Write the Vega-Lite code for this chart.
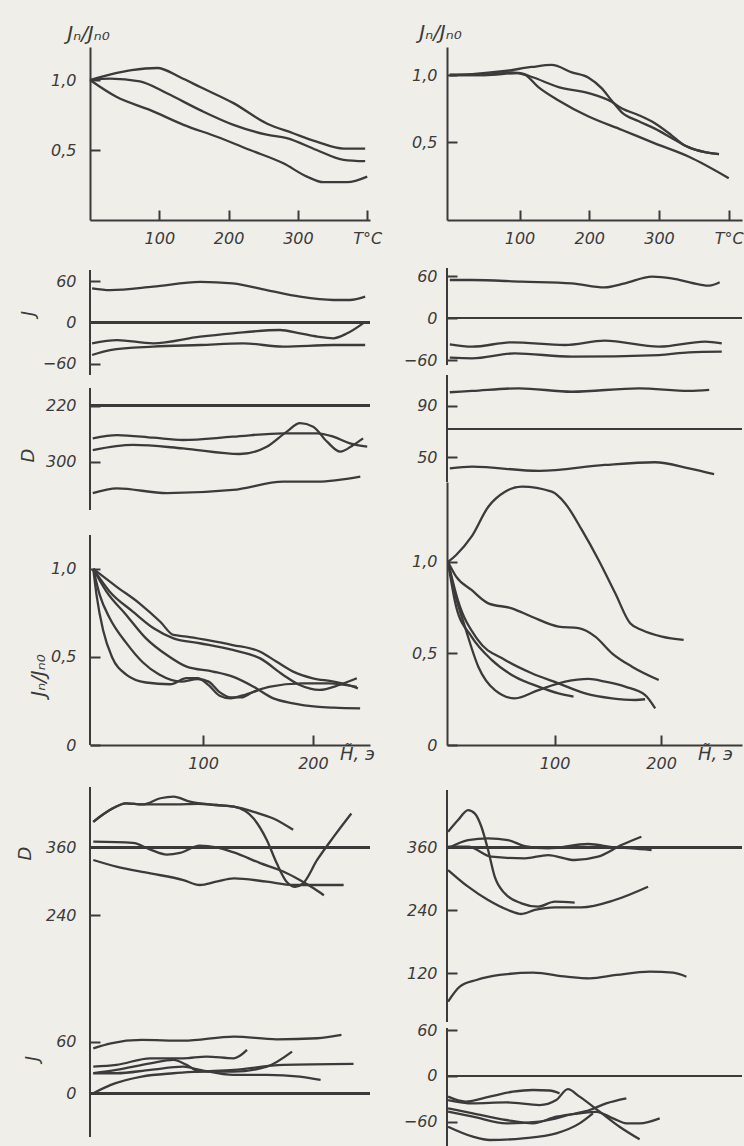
{
  "$schema": "https://vega.github.io/schema/vega-lite/v6.json",
  "autosize": "none",
  "padding": {"left": 90, "top": 47, "right": 654, "bottom": 1099},
  "background": "#efeee9",
  "data": {"values": [
    {"p":"L1","s":"a","x":0,"y":1.0},{"p":"L1","s":"a","x":30,"y":1.04},{"p":"L1","s":"a","x":60,"y":1.07},{"p":"L1","s":"a","x":97,"y":1.086},{"p":"L1","s":"a","x":130,"y":1.02},{"p":"L1","s":"a","x":159,"y":0.95},{"p":"L1","s":"a","x":207,"y":0.835},{"p":"L1","s":"a","x":255,"y":0.69},{"p":"L1","s":"a","x":293,"y":0.62},{"p":"L1","s":"a","x":327,"y":0.56},{"p":"L1","s":"a","x":366,"y":0.51},{"p":"L1","s":"a","x":397,"y":0.51},
    {"p":"L1","s":"b","x":0,"y":1.0},{"p":"L1","s":"b","x":29,"y":1.01},{"p":"L1","s":"b","x":72,"y":0.99},{"p":"L1","s":"b","x":111,"y":0.905},{"p":"L1","s":"b","x":159,"y":0.785},{"p":"L1","s":"b","x":207,"y":0.68},{"p":"L1","s":"b","x":255,"y":0.61},{"p":"L1","s":"b","x":284,"y":0.585},{"p":"L1","s":"b","x":327,"y":0.5},{"p":"L1","s":"b","x":366,"y":0.43},{"p":"L1","s":"b","x":397,"y":0.42},
    {"p":"L1","s":"c","x":0,"y":1.0},{"p":"L1","s":"c","x":38,"y":0.88},{"p":"L1","s":"c","x":87,"y":0.785},{"p":"L1","s":"c","x":135,"y":0.68},{"p":"L1","s":"c","x":183,"y":0.595},{"p":"L1","s":"c","x":231,"y":0.5},{"p":"L1","s":"c","x":279,"y":0.405},{"p":"L1","s":"c","x":313,"y":0.31},{"p":"L1","s":"c","x":337,"y":0.27},{"p":"L1","s":"c","x":371,"y":0.27},{"p":"L1","s":"c","x":400,"y":0.31},

    {"p":"R1","s":"a","x":0,"y":1.0},{"p":"R1","s":"a","x":32,"y":1.007},{"p":"R1","s":"a","x":79,"y":1.03},{"p":"R1","s":"a","x":118,"y":1.06},{"p":"R1","s":"a","x":146,"y":1.075},{"p":"R1","s":"a","x":175,"y":1.02},{"p":"R1","s":"a","x":199,"y":0.98},{"p":"R1","s":"a","x":218,"y":0.9},{"p":"R1","s":"a","x":232,"y":0.81},{"p":"R1","s":"a","x":247,"y":0.72},{"p":"R1","s":"a","x":271,"y":0.655},{"p":"R1","s":"a","x":294,"y":0.6},{"p":"R1","s":"a","x":318,"y":0.53},{"p":"R1","s":"a","x":335,"y":0.48},{"p":"R1","s":"a","x":343,"y":0.46},{"p":"R1","s":"a","x":366,"y":0.425},{"p":"R1","s":"a","x":386,"y":0.41},
    {"p":"R1","s":"b","x":0,"y":1.0},{"p":"R1","s":"b","x":50,"y":1.0},{"p":"R1","s":"b","x":99,"y":1.015},{"p":"R1","s":"b","x":118,"y":0.985},{"p":"R1","s":"b","x":156,"y":0.91},{"p":"R1","s":"b","x":199,"y":0.865},{"p":"R1","s":"b","x":232,"y":0.8},{"p":"R1","s":"b","x":247,"y":0.75},{"p":"R1","s":"b","x":271,"y":0.7},{"p":"R1","s":"b","x":294,"y":0.64},{"p":"R1","s":"b","x":318,"y":0.55},{"p":"R1","s":"b","x":335,"y":0.48},{"p":"R1","s":"b","x":343,"y":0.46},{"p":"R1","s":"b","x":366,"y":0.425},{"p":"R1","s":"b","x":386,"y":0.41},
    {"p":"R1","s":"c","x":0,"y":1.0},{"p":"R1","s":"c","x":50,"y":1.0},{"p":"R1","s":"c","x":89,"y":1.02},{"p":"R1","s":"c","x":108,"y":1.0},{"p":"R1","s":"c","x":127,"y":0.91},{"p":"R1","s":"c","x":156,"y":0.81},{"p":"R1","s":"c","x":199,"y":0.69},{"p":"R1","s":"c","x":247,"y":0.59},{"p":"R1","s":"c","x":294,"y":0.49},{"p":"R1","s":"c","x":343,"y":0.39},{"p":"R1","s":"c","x":400,"y":0.23},

    {"p":"L2","s":"a","x":3,"y":49.6},{"p":"L2","s":"a","x":29,"y":47},{"p":"L2","s":"a","x":91,"y":51.9},{"p":"L2","s":"a","x":159,"y":59},{"p":"L2","s":"a","x":206,"y":56.8},{"p":"L2","s":"a","x":255,"y":47},{"p":"L2","s":"a","x":303,"y":37.4},{"p":"L2","s":"a","x":351,"y":32.6},{"p":"L2","s":"a","x":375,"y":32.6},{"p":"L2","s":"a","x":397,"y":37.4},
    {"p":"L2","s":"b","x":3,"y":-30.2},{"p":"L2","s":"b","x":39,"y":-25.4},{"p":"L2","s":"b","x":91,"y":-30.2},{"p":"L2","s":"b","x":159,"y":-20.5},{"p":"L2","s":"b","x":206,"y":-15.7},{"p":"L2","s":"b","x":274,"y":-10.9},{"p":"L2","s":"b","x":303,"y":-15.7},{"p":"L2","s":"b","x":328,"y":-20.5},{"p":"L2","s":"b","x":351,"y":-22.9},{"p":"L2","s":"b","x":371,"y":-15.7},{"p":"L2","s":"b","x":394,"y":-1.2},
    {"p":"L2","s":"c","x":3,"y":-47.1},{"p":"L2","s":"c","x":29,"y":-39.9},{"p":"L2","s":"c","x":91,"y":-35},{"p":"L2","s":"c","x":159,"y":-32.6},{"p":"L2","s":"c","x":221,"y":-30.2},{"p":"L2","s":"c","x":279,"y":-35},{"p":"L2","s":"c","x":351,"y":-32.6},{"p":"L2","s":"c","x":397,"y":-32.6},

    {"p":"R2","s":"a","x":0,"y":54.3},{"p":"R2","s":"a","x":32,"y":54.3},{"p":"R2","s":"a","x":103,"y":51.9},{"p":"R2","s":"a","x":175,"y":49.5},{"p":"R2","s":"a","x":222,"y":43.8},{"p":"R2","s":"a","x":251,"y":49.5},{"p":"R2","s":"a","x":290,"y":59},{"p":"R2","s":"a","x":318,"y":56.7},{"p":"R2","s":"a","x":357,"y":48.1},{"p":"R2","s":"a","x":372,"y":46.2},{"p":"R2","s":"a","x":387,"y":51},
    {"p":"R2","s":"b","x":0,"y":-37.6},{"p":"R2","s":"b","x":32,"y":-41},{"p":"R2","s":"b","x":89,"y":-34.7},{"p":"R2","s":"b","x":165,"y":-38.6},{"p":"R2","s":"b","x":222,"y":-32.4},{"p":"R2","s":"b","x":300,"y":-41},{"p":"R2","s":"b","x":366,"y":-33.8},{"p":"R2","s":"b","x":390,"y":-36.1},
    {"p":"R2","s":"c","x":0,"y":-56.7},{"p":"R2","s":"c","x":32,"y":-57.6},{"p":"R2","s":"c","x":93,"y":-50.5},{"p":"R2","s":"c","x":175,"y":-55.2},{"p":"R2","s":"c","x":300,"y":-52.9},{"p":"R2","s":"c","x":343,"y":-49},{"p":"R2","s":"c","x":390,"y":-48.1},

    {"p":"L3","s":"a","x":4,"y":266.6},{"p":"L3","s":"a","x":39,"y":261.9},{"p":"L3","s":"a","x":91,"y":265.7},{"p":"L3","s":"a","x":134,"y":269},{"p":"L3","s":"a","x":206,"y":264.3},{"p":"L3","s":"a","x":279,"y":259.4},{"p":"L3","s":"a","x":328,"y":259.4},{"p":"L3","s":"a","x":351,"y":264.3},{"p":"L3","s":"a","x":375,"y":273.7},{"p":"L3","s":"a","x":400,"y":278.6},
    {"p":"L3","s":"b","x":4,"y":283.3},{"p":"L3","s":"b","x":62,"y":276},{"p":"L3","s":"b","x":134,"y":280.9},{"p":"L3","s":"b","x":216,"y":289},{"p":"L3","s":"b","x":255,"y":278.6},{"p":"L3","s":"b","x":284,"y":257},{"p":"L3","s":"b","x":303,"y":245},{"p":"L3","s":"b","x":322,"y":250},{"p":"L3","s":"b","x":342,"y":271.4},{"p":"L3","s":"b","x":361,"y":285.7},{"p":"L3","s":"b","x":380,"y":276},{"p":"L3","s":"b","x":394,"y":266.6},
    {"p":"L3","s":"c","x":4,"y":345},{"p":"L3","s":"c","x":39,"y":338},{"p":"L3","s":"c","x":111,"y":345},{"p":"L3","s":"c","x":206,"y":340.4},{"p":"L3","s":"c","x":279,"y":328.6},{"p":"L3","s":"c","x":328,"y":328.6},{"p":"L3","s":"c","x":390,"y":321.4},

    {"p":"R3","s":"a","x":0,"y":100.7},{"p":"R3","s":"a","x":32,"y":101.7},{"p":"R3","s":"a","x":99,"y":103.8},{"p":"R3","s":"a","x":175,"y":101.1},{"p":"R3","s":"a","x":271,"y":103.8},{"p":"R3","s":"a","x":343,"y":101.7},{"p":"R3","s":"a","x":372,"y":102.5},
    {"p":"R3","s":"b","x":0,"y":41.4},{"p":"R3","s":"b","x":32,"y":42.7},{"p":"R3","s":"b","x":128,"y":39.3},{"p":"R3","s":"b","x":222,"y":44},{"p":"R3","s":"b","x":294,"y":46.1},{"p":"R3","s":"b","x":343,"y":41.4},{"p":"R3","s":"b","x":379,"y":36.8},

    {"p":"L4","s":"a","x":0,"y":1.0},{"p":"L4","s":"a","x":21,"y":0.9},{"p":"L4","s":"a","x":42,"y":0.805},{"p":"L4","s":"a","x":61,"y":0.7},{"p":"L4","s":"a","x":73,"y":0.625},{"p":"L4","s":"a","x":85,"y":0.616},{"p":"L4","s":"a","x":103,"y":0.597},{"p":"L4","s":"a","x":127,"y":0.568},{"p":"L4","s":"a","x":152,"y":0.53},{"p":"L4","s":"a","x":167,"y":0.473},{"p":"L4","s":"a","x":182,"y":0.417},{"p":"L4","s":"a","x":200,"y":0.379},{"p":"L4","s":"a","x":219,"y":0.36},{"p":"L4","s":"a","x":237,"y":0.331},{"p":"L4","s":"a","x":241,"y":0.322},
    {"p":"L4","s":"b","x":0,"y":1.0},{"p":"L4","s":"b","x":15,"y":0.871},{"p":"L4","s":"b","x":36,"y":0.758},{"p":"L4","s":"b","x":55,"y":0.663},{"p":"L4","s":"b","x":73,"y":0.606},{"p":"L4","s":"b","x":97,"y":0.578},{"p":"L4","s":"b","x":127,"y":0.54},{"p":"L4","s":"b","x":152,"y":0.492},{"p":"L4","s":"b","x":173,"y":0.398},{"p":"L4","s":"b","x":188,"y":0.341},{"p":"L4","s":"b","x":206,"y":0.313},{"p":"L4","s":"b","x":224,"y":0.341},{"p":"L4","s":"b","x":240,"y":0.379},
    {"p":"L4","s":"c","x":0,"y":1.0},{"p":"L4","s":"c","x":12,"y":0.871},{"p":"L4","s":"c","x":30,"y":0.739},{"p":"L4","s":"c","x":48,"y":0.606},{"p":"L4","s":"c","x":67,"y":0.511},{"p":"L4","s":"c","x":85,"y":0.445},{"p":"L4","s":"c","x":109,"y":0.417},{"p":"L4","s":"c","x":127,"y":0.388},{"p":"L4","s":"c","x":146,"y":0.331},{"p":"L4","s":"c","x":164,"y":0.265},{"p":"L4","s":"c","x":182,"y":0.237},{"p":"L4","s":"c","x":203,"y":0.218},{"p":"L4","s":"c","x":219,"y":0.212},{"p":"L4","s":"c","x":243,"y":0.208},
    {"p":"L4","s":"d","x":0,"y":1.0},{"p":"L4","s":"d","x":6,"y":0.85},{"p":"L4","s":"d","x":15,"y":0.72},{"p":"L4","s":"d","x":30,"y":0.58},{"p":"L4","s":"d","x":45,"y":0.47},{"p":"L4","s":"d","x":60,"y":0.4},{"p":"L4","s":"d","x":80,"y":0.36},{"p":"L4","s":"d","x":95,"y":0.375},{"p":"L4","s":"d","x":105,"y":0.36},{"p":"L4","s":"d","x":115,"y":0.3},{"p":"L4","s":"d","x":125,"y":0.27},{"p":"L4","s":"d","x":135,"y":0.27},{"p":"L4","s":"d","x":145,"y":0.3},{"p":"L4","s":"d","x":160,"y":0.33},{"p":"L4","s":"d","x":190,"y":0.35},{"p":"L4","s":"d","x":215,"y":0.35},{"p":"L4","s":"d","x":240,"y":0.33},
    {"p":"L4","s":"e","x":0,"y":1.0},{"p":"L4","s":"e","x":3,"y":0.85},{"p":"L4","s":"e","x":9,"y":0.65},{"p":"L4","s":"e","x":17,"y":0.5},{"p":"L4","s":"e","x":30,"y":0.4},{"p":"L4","s":"e","x":48,"y":0.355},{"p":"L4","s":"e","x":70,"y":0.345},{"p":"L4","s":"e","x":85,"y":0.38},{"p":"L4","s":"e","x":95,"y":0.38},{"p":"L4","s":"e","x":105,"y":0.34},{"p":"L4","s":"e","x":115,"y":0.28},{"p":"L4","s":"e","x":125,"y":0.265},{"p":"L4","s":"e","x":135,"y":0.28},{"p":"L4","s":"e","x":150,"y":0.31},

    {"p":"R4","s":"a","x":0,"y":1.0},{"p":"R4","s":"a","x":7.6,"y":1.038},{"p":"R4","s":"a","x":22,"y":1.138},{"p":"R4","s":"a","x":37.8,"y":1.302},{"p":"R4","s":"a","x":53.5,"y":1.384},{"p":"R4","s":"a","x":69.2,"y":1.412},{"p":"R4","s":"a","x":97.4,"y":1.384},{"p":"R4","s":"a","x":110,"y":1.32},{"p":"R4","s":"a","x":125.6,"y":1.175},{"p":"R4","s":"a","x":141.3,"y":1.011},{"p":"R4","s":"a","x":157,"y":0.829},{"p":"R4","s":"a","x":171,"y":0.665},{"p":"R4","s":"a","x":182,"y":0.628},{"p":"R4","s":"a","x":200.8,"y":0.592},{"p":"R4","s":"a","x":221.2,"y":0.574},
    {"p":"R4","s":"b","x":0,"y":1.0},{"p":"R4","s":"b","x":7.6,"y":0.92},{"p":"R4","s":"b","x":22,"y":0.847},{"p":"R4","s":"b","x":37.8,"y":0.774},{"p":"R4","s":"b","x":59.8,"y":0.747},{"p":"R4","s":"b","x":78.6,"y":0.701},{"p":"R4","s":"b","x":103.7,"y":0.647},{"p":"R4","s":"b","x":122.5,"y":0.638},{"p":"R4","s":"b","x":138.2,"y":0.592},{"p":"R4","s":"b","x":153.9,"y":0.501},{"p":"R4","s":"b","x":172.7,"y":0.428},{"p":"R4","s":"b","x":197.8,"y":0.355},
    {"p":"R4","s":"c","x":0,"y":1.0},{"p":"R4","s":"c","x":6.4,"y":0.829},{"p":"R4","s":"c","x":15.8,"y":0.647},{"p":"R4","s":"c","x":28.4,"y":0.428},{"p":"R4","s":"c","x":44,"y":0.3},{"p":"R4","s":"c","x":62.8,"y":0.255},{"p":"R4","s":"c","x":84.9,"y":0.3},{"p":"R4","s":"c","x":110,"y":0.346},{"p":"R4","s":"c","x":131.9,"y":0.361},{"p":"R4","s":"c","x":147.5,"y":0.346},{"p":"R4","s":"c","x":166.3,"y":0.319},{"p":"R4","s":"c","x":185.1,"y":0.273},{"p":"R4","s":"c","x":194.5,"y":0.2},
    {"p":"R4","s":"d","x":0,"y":1.0},{"p":"R4","s":"d","x":7.6,"y":0.756},{"p":"R4","s":"d","x":22,"y":0.592},{"p":"R4","s":"d","x":40.9,"y":0.465},{"p":"R4","s":"d","x":62.8,"y":0.373},{"p":"R4","s":"d","x":84.9,"y":0.319},{"p":"R4","s":"d","x":103.7,"y":0.282},{"p":"R4","s":"d","x":117.8,"y":0.264},
    {"p":"R4","s":"e","x":0,"y":1.0},{"p":"R4","s":"e","x":9.2,"y":0.792},{"p":"R4","s":"e","x":28,"y":0.574},{"p":"R4","s":"e","x":53.5,"y":0.465},{"p":"R4","s":"e","x":78.6,"y":0.392},{"p":"R4","s":"e","x":103.7,"y":0.337},{"p":"R4","s":"e","x":128.8,"y":0.282},{"p":"R4","s":"e","x":153.9,"y":0.255},{"p":"R4","s":"e","x":175.8,"y":0.246},{"p":"R4","s":"e","x":185,"y":0.25},

    {"p":"L5","s":"a","x":0,"y":405},{"p":"L5","s":"a","x":15,"y":426},{"p":"L5","s":"a","x":30,"y":438},{"p":"L5","s":"a","x":45,"y":436},{"p":"L5","s":"a","x":61,"y":447},{"p":"L5","s":"a","x":73,"y":450},{"p":"L5","s":"a","x":88,"y":441},{"p":"L5","s":"a","x":112,"y":435},{"p":"L5","s":"a","x":128,"y":432},{"p":"L5","s":"a","x":146,"y":423},{"p":"L5","s":"a","x":164,"y":411},{"p":"L5","s":"a","x":182,"y":391},
    {"p":"L5","s":"b","x":0,"y":405},{"p":"L5","s":"b","x":15,"y":426},{"p":"L5","s":"b","x":30,"y":438},{"p":"L5","s":"b","x":45,"y":436},{"p":"L5","s":"b","x":60,"y":436},{"p":"L5","s":"b","x":75,"y":436},{"p":"L5","s":"b","x":95,"y":437},{"p":"L5","s":"b","x":112,"y":435},{"p":"L5","s":"b","x":128,"y":432},{"p":"L5","s":"b","x":146,"y":411},{"p":"L5","s":"b","x":158,"y":373},{"p":"L5","s":"b","x":167,"y":332},{"p":"L5","s":"b","x":176,"y":299},{"p":"L5","s":"b","x":184,"y":290},{"p":"L5","s":"b","x":191,"y":296},{"p":"L5","s":"b","x":204,"y":338},{"p":"L5","s":"b","x":219,"y":379},{"p":"L5","s":"b","x":235,"y":420},
    {"p":"L5","s":"c","x":0,"y":370},{"p":"L5","s":"c","x":36,"y":368},{"p":"L5","s":"c","x":52,"y":356},{"p":"L5","s":"c","x":67,"y":347},{"p":"L5","s":"c","x":79,"y":350},{"p":"L5","s":"c","x":97,"y":363},{"p":"L5","s":"c","x":112,"y":360},{"p":"L5","s":"c","x":128,"y":351},{"p":"L5","s":"c","x":152,"y":332},{"p":"L5","s":"c","x":173,"y":317},{"p":"L5","s":"c","x":188,"y":302},{"p":"L5","s":"c","x":201,"y":287},{"p":"L5","s":"c","x":210,"y":275},
    {"p":"L5","s":"d","x":0,"y":337.5},{"p":"L5","s":"d","x":21,"y":325.7},{"p":"L5","s":"d","x":52,"y":313.9},{"p":"L5","s":"d","x":82,"y":302},{"p":"L5","s":"d","x":97,"y":293.2},{"p":"L5","s":"d","x":112,"y":299.1},{"p":"L5","s":"d","x":128,"y":305},{"p":"L5","s":"d","x":158,"y":299.1},{"p":"L5","s":"d","x":182,"y":293.2},{"p":"L5","s":"d","x":228,"y":293.2},

    {"p":"R5","s":"a","x":0,"y":389.7},{"p":"R5","s":"a","x":9.4,"y":411.9},{"p":"R5","s":"a","x":18.8,"y":431},{"p":"R5","s":"a","x":25,"y":424.6},{"p":"R5","s":"a","x":31.3,"y":399.2},{"p":"R5","s":"a","x":37.6,"y":354.8},{"p":"R5","s":"a","x":43.8,"y":304},{"p":"R5","s":"a","x":53.2,"y":272.3},{"p":"R5","s":"a","x":68.9,"y":253.3},{"p":"R5","s":"a","x":84.5,"y":246.9},{"p":"R5","s":"a","x":100.2,"y":256.5},{"p":"R5","s":"a","x":118.9,"y":254.5},
    {"p":"R5","s":"b","x":0,"y":358},{"p":"R5","s":"b","x":18.8,"y":373.8},{"p":"R5","s":"b","x":37.6,"y":377},{"p":"R5","s":"b","x":56.3,"y":373.8},{"p":"R5","s":"b","x":72,"y":362.4},{"p":"R5","s":"b","x":93.9,"y":358},{"p":"R5","s":"b","x":131.5,"y":366.3},{"p":"R5","s":"b","x":156.5,"y":359.9},{"p":"R5","s":"b","x":172.1,"y":358},{"p":"R5","s":"b","x":191.1,"y":354.8},
    {"p":"R5","s":"c","x":0,"y":361.2},{"p":"R5","s":"c","x":18.8,"y":361.2},{"p":"R5","s":"c","x":40.7,"y":342.1},{"p":"R5","s":"c","x":72,"y":338.9},{"p":"R5","s":"c","x":93.9,"y":345.3},{"p":"R5","s":"c","x":118.9,"y":335.8},{"p":"R5","s":"c","x":140.8,"y":342.1},{"p":"R5","s":"c","x":162.7,"y":364.3},{"p":"R5","s":"c","x":181.5,"y":380.2},
    {"p":"R5","s":"d","x":0,"y":316.7},{"p":"R5","s":"d","x":18.8,"y":285},{"p":"R5","s":"d","x":37.6,"y":259.6},{"p":"R5","s":"d","x":56.3,"y":240.6},{"p":"R5","s":"d","x":68.9,"y":233},{"p":"R5","s":"d","x":81.4,"y":240.6},{"p":"R5","s":"d","x":100.2,"y":245.7},{"p":"R5","s":"d","x":125.2,"y":245.7},{"p":"R5","s":"d","x":156.5,"y":259.6},{"p":"R5","s":"d","x":187.8,"y":285},
    {"p":"R5","s":"e","x":0,"y":65.9},{"p":"R5","s":"e","x":11,"y":94.5},{"p":"R5","s":"e","x":26.6,"y":107.2},{"p":"R5","s":"e","x":48.5,"y":116.8},{"p":"R5","s":"e","x":79.8,"y":121.1},{"p":"R5","s":"e","x":111.1,"y":113.5},{"p":"R5","s":"e","x":133,"y":110.4},{"p":"R5","s":"e","x":158.1,"y":116.8},{"p":"R5","s":"e","x":189.4,"y":123.1},{"p":"R5","s":"e","x":211.3,"y":121.1},{"p":"R5","s":"e","x":223.8,"y":113.5},

    {"p":"L6","s":"a","x":0,"y":52.3},{"p":"L6","s":"a","x":16,"y":58.1},{"p":"L6","s":"a","x":44,"y":62},{"p":"L6","s":"a","x":82,"y":61.2},{"p":"L6","s":"a","x":128,"y":65.9},{"p":"L6","s":"a","x":167,"y":62.8},{"p":"L6","s":"a","x":204,"y":64},{"p":"L6","s":"a","x":226,"y":67.8},
    {"p":"L6","s":"b","x":0,"y":31},{"p":"L6","s":"b","x":21,"y":33},{"p":"L6","s":"b","x":52,"y":40.7},{"p":"L6","s":"b","x":82,"y":40.7},{"p":"L6","s":"b","x":103,"y":42.7},{"p":"L6","s":"b","x":128,"y":40.7},{"p":"L6","s":"b","x":140,"y":50.4},
    {"p":"L6","s":"c","x":0,"y":23.3},{"p":"L6","s":"c","x":21,"y":27.2},{"p":"L6","s":"c","x":52,"y":34.9},{"p":"L6","s":"c","x":73,"y":38.8},{"p":"L6","s":"c","x":85,"y":33},{"p":"L6","s":"c","x":97,"y":25.2},{"p":"L6","s":"c","x":128,"y":25.2},{"p":"L6","s":"c","x":158,"y":31},{"p":"L6","s":"c","x":181,"y":48.5},
    {"p":"L6","s":"d","x":0,"y":23.3},{"p":"L6","s":"d","x":21,"y":23.3},{"p":"L6","s":"d","x":52,"y":27.2},{"p":"L6","s":"d","x":82,"y":31},{"p":"L6","s":"d","x":97,"y":27.2},{"p":"L6","s":"d","x":128,"y":21.3},{"p":"L6","s":"d","x":158,"y":21.3},{"p":"L6","s":"d","x":188,"y":19.4},{"p":"L6","s":"d","x":207,"y":15.5},
    {"p":"L6","s":"e","x":0,"y":0},{"p":"L6","s":"e","x":16,"y":9.7},{"p":"L6","s":"e","x":44,"y":19.4},{"p":"L6","s":"e","x":73,"y":23.3},{"p":"L6","s":"e","x":97,"y":25.2},{"p":"L6","s":"e","x":128,"y":27.2},{"p":"L6","s":"e","x":173,"y":33},{"p":"L6","s":"e","x":237,"y":34.1},

    {"p":"R6","s":"a","x":0,"y":-27.2},{"p":"R6","s":"a","x":16.4,"y":-33.8},{"p":"R6","s":"a","x":39,"y":-27.2},{"p":"R6","s":"a","x":60.9,"y":-20.6},{"p":"R6","s":"a","x":79.6,"y":-18.4},{"p":"R6","s":"a","x":95.3,"y":-19.1},{"p":"R6","s":"a","x":104.7,"y":-22.8},
    {"p":"R6","s":"b","x":0,"y":-31.6},{"p":"R6","s":"b","x":23.3,"y":-36},{"p":"R6","s":"b","x":54.6,"y":-34.7},{"p":"R6","s":"b","x":85.9,"y":-38.2},{"p":"R6","s":"b","x":101.6,"y":-31.6},{"p":"R6","s":"b","x":112.5,"y":-17.3},{"p":"R6","s":"b","x":123.5,"y":-27.2},{"p":"R6","s":"b","x":142.3,"y":-46.9},{"p":"R6","s":"b","x":161,"y":-66.7},{"p":"R6","s":"b","x":179.9,"y":-83.3},
    {"p":"R6","s":"c","x":0,"y":-42.5},{"p":"R6","s":"c","x":23.3,"y":-49.1},{"p":"R6","s":"c","x":54.6,"y":-57.9},{"p":"R6","s":"c","x":79.6,"y":-62.3},{"p":"R6","s":"c","x":101.6,"y":-53.5},{"p":"R6","s":"c","x":123.5,"y":-49.1},{"p":"R6","s":"c","x":139.2,"y":-47.1},{"p":"R6","s":"c","x":154.8,"y":-55.7},{"p":"R6","s":"c","x":167.4,"y":-62.3},{"p":"R6","s":"c","x":179.9,"y":-62.3},{"p":"R6","s":"c","x":198.7,"y":-55.7},
    {"p":"R6","s":"d","x":0,"y":-47},{"p":"R6","s":"d","x":23.3,"y":-53.5},{"p":"R6","s":"d","x":54.6,"y":-62.3},{"p":"R6","s":"d","x":85.9,"y":-60.1},{"p":"R6","s":"d","x":117.2,"y":-50},{"p":"R6","s":"d","x":132.9,"y":-44.7},{"p":"R6","s":"d","x":148.5,"y":-36},{"p":"R6","s":"d","x":167.4,"y":-29.4},
    {"p":"R6","s":"e","x":0,"y":-66.7},{"p":"R6","s":"e","x":23.3,"y":-79.8},{"p":"R6","s":"e","x":39,"y":-84.2},{"p":"R6","s":"e","x":70.3,"y":-82},{"p":"R6","s":"e","x":101.6,"y":-75.4},{"p":"R6","s":"e","x":123.5,"y":-62.3},{"p":"R6","s":"e","x":136,"y":-49.1}
  ]},
  "columns": 2,
  "spacing": {"row": 0, "column": 77},
  "bounds": "flush",
  "concat": [
    {
      "width": 280, "height": 173,
      "transform": [{"filter": "datum.p === 'L1'"}],
      "mark": "line",
      "encoding": {
        "x": {"field": "x", "type": "quantitative", "scale": {"domain": [0, 404], "nice": false, "zero": false},
              "axis": {"values": [100, 200, 300, 400], "labelExpr": "datum.value == 400 ? 'T°C' : datum.label", "title": null}},
        "y": {"field": "y", "type": "quantitative", "scale": {"domain": [0, 1.236], "nice": false, "zero": false},
              "axis": {"values": [0.5, 1.0], "labelExpr": "replace(format(datum.value, '.1f'), '.', ',')", "labelPadding": 24,
                       "title": "Jₙ/Jₙ₀", "titleFontSize": 20, "titleAngle": 0, "titleX": -2, "titleY": -14, "titleAlign": "center", "titleBaseline": "middle"}},
        "detail": {"field": "s"}
      }
    },
    {
      "width": 295, "height": 173,
      "transform": [{"filter": "datum.p === 'R1'"}],
      "mark": "line",
      "encoding": {
        "x": {"field": "x", "type": "quantitative", "scale": {"domain": [-4, 419], "nice": false, "zero": false},
              "axis": {"values": [100, 200, 300, 400], "labelExpr": "datum.value == 400 ? 'T°C' : datum.label", "title": null}},
        "y": {"field": "y", "type": "quantitative", "scale": {"domain": [-0.082, 1.209], "nice": false, "zero": false},
              "axis": {"values": [0.5, 1.0], "labelExpr": "replace(format(datum.value, '.1f'), '.', ',')",
                       "title": "Jₙ/Jₙ₀", "titleFontSize": 20, "titleAngle": 0, "titleX": -7, "titleY": -15, "titleAlign": "center", "titleBaseline": "middle"}},
        "detail": {"field": "s"}
      }
    },
    {
      "width": 280, "height": 152,
      "transform": [{"filter": "datum.p === 'L2'"}],
      "layer": [
        {"mark": "line", "encoding": {
          "x": {"field": "x", "type": "quantitative", "scale": {"domain": [0, 404], "nice": false, "zero": false}, "axis": null},
          "y": {"field": "y", "type": "quantitative", "scale": {"domain": [-71.74, 148.55], "nice": false, "zero": false},
                "axis": {"values": [-60, 0, 60], "domain": false, "title": "J", "titleX": -62, "titleY": 93, "titleAlign": "center", "titleBaseline": "middle", "labelPadding": 24}},
          "detail": {"field": "s"}}},
        {"mark": "rule", "encoding": {"x": {"datum": 0, "axis": null}, "y": {"datum": 76}, "y2": {"datum": -76}}},
        {"mark": "rule", "encoding": {"y": {"datum": 0}}}
      ]
    },
    {
      "width": 295, "height": 152,
      "transform": [{"filter": "datum.p === 'R2'"}],
      "layer": [
        {"mark": "line", "encoding": {
          "x": {"field": "x", "type": "quantitative", "scale": {"domain": [-4, 419], "nice": false, "zero": false}, "axis": null},
          "y": {"field": "y", "type": "quantitative", "scale": {"domain": [-77.14, 140], "nice": false, "zero": false},
                "axis": {"values": [-60, 0, 60], "domain": false, "title": null}},
          "detail": {"field": "s"}}},
        {"mark": "rule", "encoding": {"x": {"datum": -4, "axis": null}, "y": {"datum": 71.4}, "y2": {"datum": -67.1}}},
        {"mark": "rule", "encoding": {"y": {"datum": 0}}}
      ]
    },
    {
      "width": 280, "height": 110,
      "transform": [{"filter": "datum.p === 'L3'"}],
      "layer": [
        {"mark": "line", "encoding": {
          "x": {"field": "x", "type": "quantitative", "scale": {"domain": [0, 404], "nice": false, "zero": false}, "axis": null},
          "y": {"field": "y", "type": "quantitative", "scale": {"domain": [171.86, 329], "nice": false, "zero": false, "reverse": true},
                "axis": {"values": [220, 300], "domain": false, "title": "D", "titleX": -62, "titleY": 83, "titleAlign": "center", "titleBaseline": "middle", "labelPadding": 24}},
          "detail": {"field": "s"}}},
        {"mark": "rule", "encoding": {"x": {"datum": 0, "axis": null}, "y": {"datum": 194.7}, "y2": {"datum": 369}}},
        {"mark": "rule", "encoding": {"y": {"datum": 220}}}
      ]
    },
    {
      "width": 295, "height": 110,
      "transform": [{"filter": "datum.p === 'R3'"}],
      "layer": [
        {"mark": "line", "encoding": {
          "x": {"field": "x", "type": "quantitative", "scale": {"domain": [-4, 419], "nice": false, "zero": false}, "axis": null},
          "y": {"field": "y", "type": "quantitative", "scale": {"domain": [30.7, 116.5], "nice": false, "zero": false},
                "axis": {"values": [50, 90], "domain": false, "title": null}},
          "detail": {"field": "s"}}},
        {"mark": "rule", "encoding": {"x": {"datum": -4, "axis": null}, "y": {"datum": 114.2}, "y2": {"datum": 30.7}}},
        {"mark": "rule", "encoding": {"y": {"datum": 72}}}
      ]
    },
    {
      "width": 280, "height": 263,
      "transform": [{"filter": "datum.p === 'L4'"}],
      "layer": [
        {"mark": "line", "encoding": {
          "x": {"field": "x", "type": "quantitative", "scale": {"domain": [-3, 252], "nice": false, "zero": false},
                "axis": {"values": [100, 200], "title": "H̃, э", "titleAngle": 0, "titleX": 267, "titleY": 9, "titleAlign": "center", "titleBaseline": "middle"}},
          "y": {"field": "y", "type": "quantitative", "scale": {"domain": [0, 1.494], "nice": false, "zero": false},
                "axis": {"values": [0, 0.5, 1.0], "domain": false, "labelExpr": "datum.value == 0 ? '0' : replace(format(datum.value, '.1f'), '.', ',')", "labelPadding": 24,
                         "title": "Jₙ/Jₙ₀", "titleFontSize": 20, "titleX": -52, "titleY": 193, "titleAlign": "center", "titleBaseline": "middle"}},
          "detail": {"field": "s"}}},
        {"mark": "rule", "encoding": {"x": {"datum": -3}, "y": {"datum": 1.193}, "y2": {"datum": 0}}}
      ]
    },
    {
      "width": 295, "height": 263,
      "transform": [{"filter": "datum.p === 'R4'"}],
      "mark": "line",
      "encoding": {
        "x": {"field": "x", "type": "quantitative", "scale": {"domain": [-1, 276], "nice": false, "zero": false},
              "axis": {"values": [100, 200], "title": "H̃, э", "titleAngle": 0, "titleX": 268, "titleY": 9, "titleAlign": "center", "titleBaseline": "middle"}},
        "y": {"field": "y", "type": "quantitative", "scale": {"domain": [0, 1.437], "nice": false, "zero": false},
              "axis": {"values": [0, 0.5, 1.0], "labelExpr": "datum.value == 0 ? '0' : replace(format(datum.value, '.1f'), '.', ',')", "title": null}},
        "detail": {"field": "s"}
      }
    },
    {
      "width": 280, "height": 280,
      "transform": [{"filter": "datum.p === 'L5'"}],
      "layer": [
        {"mark": "line", "encoding": {
          "x": {"field": "x", "type": "quantitative", "scale": {"domain": [-3, 252], "nice": false, "zero": false}, "axis": null},
          "y": {"field": "y", "type": "quantitative", "scale": {"domain": [45, 541.4], "nice": false, "zero": false},
                "axis": {"values": [240, 360], "domain": false, "title": "D", "titleX": -65, "titleY": 108, "titleAlign": "center", "titleBaseline": "middle", "labelPadding": 24}},
          "detail": {"field": "s"}}},
        {"mark": "rule", "encoding": {"x": {"datum": -3, "axis": null}, "y": {"datum": 467}, "y2": {"datum": 133.6}}},
        {"mark": "rule", "encoding": {"y": {"datum": 360}}}
      ]
    },
    {
      "width": 295, "height": 280,
      "transform": [{"filter": "datum.p === 'R5'"}],
      "layer": [
        {"mark": "line", "encoding": {
          "x": {"field": "x", "type": "quantitative", "scale": {"domain": [-1, 276], "nice": false, "zero": false}, "axis": null},
          "y": {"field": "y", "type": "quantitative", "scale": {"domain": [21.5, 554.9], "nice": false, "zero": false},
                "axis": {"values": [120, 240, 360], "domain": false, "title": null}},
          "detail": {"field": "s"}}},
        {"mark": "rule", "encoding": {"x": {"datum": -1, "axis": null}, "y": {"datum": 469.1}, "y2": {"datum": 27.2}}},
        {"mark": "rule", "encoding": {"y": {"datum": 360}}}
      ]
    },
    {
      "width": 280, "height": 121,
      "transform": [{"filter": "datum.p === 'L6'"}],
      "layer": [
        {"mark": "line", "encoding": {
          "x": {"field": "x", "type": "quantitative", "scale": {"domain": [-3, 252], "nice": false, "zero": false}, "axis": null},
          "y": {"field": "y", "type": "quantitative", "scale": {"domain": [-61.3, 79.4], "nice": false, "zero": false},
                "axis": {"values": [0, 60], "domain": false, "title": "J", "titleX": -58, "titleY": 33, "titleAlign": "center", "titleBaseline": "middle", "labelPadding": 24}},
          "detail": {"field": "s"}}},
        {"mark": "rule", "encoding": {"x": {"datum": -3, "axis": null}, "y": {"datum": 137.6}, "y2": {"datum": -50.8}}},
        {"mark": "rule", "encoding": {"y": {"datum": 0}}}
      ]
    },
    {
      "width": 295, "height": 121,
      "transform": [{"filter": "datum.p === 'R6'"}],
      "layer": [
        {"mark": "line", "encoding": {
          "x": {"field": "x", "type": "quantitative", "scale": {"domain": [-1, 276], "nice": false, "zero": false}, "axis": null},
          "y": {"field": "y", "type": "quantitative", "scale": {"domain": [-92.1, 67.1], "nice": false, "zero": false},
                "axis": {"values": [-60, 0, 60], "domain": false, "title": null}},
          "detail": {"field": "s"}}},
        {"mark": "rule", "encoding": {"x": {"datum": -1, "axis": null}, "y": {"datum": 63.2}, "y2": {"datum": -92.1}}},
        {"mark": "rule", "encoding": {"y": {"datum": 0}}}
      ]
    }
  ],
  "config": {
    "view": {"stroke": null},
    "axis": {
      "grid": false,
      "domainColor": "#3b3b3b", "domainWidth": 2,
      "tickColor": "#3b3b3b", "tickWidth": 2, "tickSize": -10,
      "labelFont": "DejaVu Sans",
      "labelFontSize": 16, "labelFontStyle": "italic", "labelColor": "#3b3b3b",
      "labelFlush": false, "labelOverlap": false,
      "titleFont": "DejaVu Sans",
      "titleFontSize": 18, "titleFontStyle": "italic", "titleFontWeight": "normal", "titleColor": "#3b3b3b"
    },
    "axisY": {"labelPadding": 20},
    "axisX": {"labelPadding": 20},
    "line": {"color": "#3b3b3b", "strokeWidth": 2.3, "interpolate": "monotone"},
    "rule": {"color": "#3b3b3b", "strokeWidth": 2}
  }
}
